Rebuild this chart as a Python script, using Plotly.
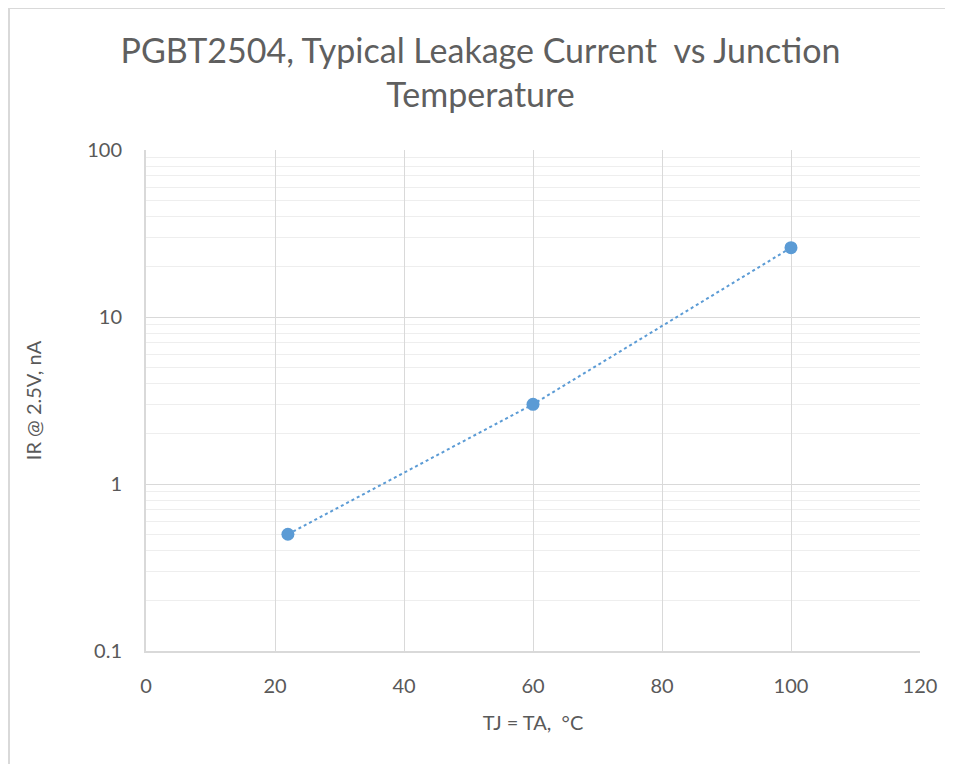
import plotly.graph_objects as go

temps = [22, 60, 100]
leakage_na = [0.5, 3.0, 26]
x_ticks = [0, 20, 40, 60, 80, 100, 120]
y_ticks = [0.1, 1, 10, 100]
y_tick_labels = ["0.1", "1", "10", "100"]

FONT = "Lato, Open Sans, sans-serif"
GRAY = "#595959"

fig = go.Figure()
fig.add_trace(go.Scatter(
    x=temps, y=leakage_na, mode="lines+markers",
    line=dict(color="#5b9bd5", width=2, dash="dot"),
    marker=dict(color="#5b9bd5", size=13),
    showlegend=False,
))

# page body adds an 8px offset
W, H = 945, 756
L, R, T, B = 138, 33, 142, 113
pw, ph = W - L - R, H - T - B

def px(p):
    return (p - L) / pw

def py(p):
    return (H - B - p) / ph

fig.update_layout(
    width=W, height=H,
    margin=dict(l=L, r=R, t=T, b=B),
    paper_bgcolor="white", plot_bgcolor="white",
    font=dict(family=FONT, color=GRAY, size=20),
    title=dict(
        text="PGBT2504, Typical Leakage Current  vs Junction<br>Temperature",
        x=0.5, xanchor="center", y=1 - 55 / H, yanchor="middle",
        font=dict(size=34, color="#5f5f5f", family=FONT),
    ),
    xaxis=dict(
        range=[0, 120], tickvals=x_ticks, showgrid=True, gridcolor="#d9d9d9", gridwidth=1,
        zeroline=False, showline=True, linecolor="#d9d9d9", linewidth=2,
        ticks="", tickfont=dict(size=20, color=GRAY), ticklabelstandoff=16,
        title=dict(text="TJ = TA,  °C", font=dict(size=20, color=GRAY), standoff=20),
    ),
    yaxis=dict(
        type="log", range=[-1, 2], tickvals=y_ticks, ticktext=y_tick_labels,
        showgrid=True, gridcolor="#d9d9d9", gridwidth=1,
        minor=dict(showgrid=True, gridcolor="#eeeeee", dtick="D1", ticks=""),
        zeroline=False, showline=True, linecolor="#d9d9d9", linewidth=2,
        ticks="", tickfont=dict(size=20, color=GRAY), ticklabelstandoff=18,
        title=dict(text="IR @ 2.5V, nA", font=dict(size=20, color=GRAY), standoff=40),
    ),
    shapes=[
        dict(type="line", xref="paper", yref="paper", x0=px(1), x1=px(1), y0=py(0), y1=py(H),
             line=dict(color="#d9d9d9", width=2)),
        dict(type="line", xref="paper", yref="paper", x0=px(1), x1=px(W), y0=py(0), y1=py(0),
             line=dict(color="#d9d9d9", width=2)),
    ],
)

fig.write_html("out.html")
